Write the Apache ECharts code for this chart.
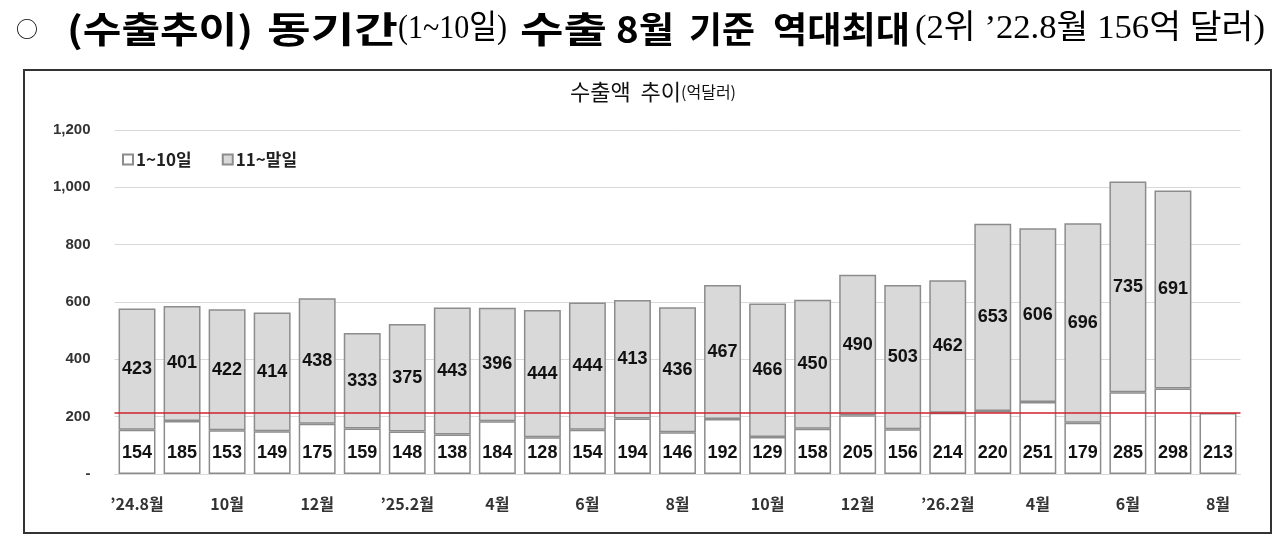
<!DOCTYPE html>
<html>
<head>
<meta charset="utf-8">
<script src="https://cdn.jsdelivr.net/npm/echarts@6/dist/echarts.min.js"></script>
<style>
html,body{margin:0;padding:0;background:#fff;}
#c{width:1288px;height:547px;}
</style>
</head>
<body>
<div id="c"></div>
<script>
var categories = ['’24.8월','9월','10월','11월','12월','’25.1월','’25.2월','3월','4월','5월','6월','7월','8월','9월','10월','11월','12월','’26.1월','’26.2월','3월','4월','5월','6월','7월','8월'];
var first10 = [154,185,153,149,175,159,148,138,184,128,154,194,146,192,129,158,205,156,214,220,251,179,285,298,213];
var restOfMonth = [423,401,422,414,438,333,375,443,396,444,444,413,436,467,466,450,490,503,462,653,606,696,735,691,null];
var seriesNames = ['1~10일','11~말일'];
var headingParts = ['○','(수출추이)','동기간','(1~10일)','수출','8월','기준','역대최대','(2위 ’22.8월 156억 달러)'];
var chartTitle = '수출액  추이';
var chartUnit = '(억달러)';

var FONT = '"Noto Sans CJK KR", "Noto Sans", sans-serif';
var SERIF = '"Liberation Serif", "Noto Sans CJK KR", serif';
var NUMFONT = '"Liberation Sans", Arial, sans-serif';
var chart = echarts.init(document.getElementById('c'));
var refValue = first10[first10.length - 1];

// heading layout: [x, target width, font]
var HB = 'bold 36px ' + FONT, HS = 'normal 33px ' + SERIF;
var headLayout = [
  [16, 0, 'normal 22px ' + FONT],
  [67, 186, HB],
  [267, 131, HB],
  [398, 109, HS],
  [520, 87, HB],
  [616, 58, HB],
  [689, 66, HB],
  [773, 137, HB],
  [915, 350, HS]
];
var ctx = document.createElement('canvas').getContext('2d');
var graphics = headingParts.map(function (t, i) {
  var L = headLayout[i];
  ctx.font = L[2];
  var w = ctx.measureText(t).width;
  var sx = L[1] ? L[1] / w : 1;
  return {
    type: 'text', x: L[0], y: 29, scaleX: sx, silent: true,
    style: {text: t, font: L[2], fill: '#000', verticalAlign: 'middle', textVerticalAlign: 'middle'}
  };
});
graphics.push({type: 'rect', shape: {x: 24, y: 70, width: 1247, height: 463}, style: {fill: 'none', stroke: '#333', lineWidth: 2}, silent: true});

chart.setOption({
  animation: false,
  backgroundColor: '#fff',
  title: [
    {
      left: 648, top: 76, textAlign: 'center',
      text: '{m|' + chartTitle + '}{p|' + chartUnit + '}',
      textStyle: {
        fontWeight: 'normal',
        rich: {
          m: {fontFamily: FONT, fontSize: 22, fontWeight: 'normal', color: '#111'},
          p: {fontFamily: FONT, fontSize: 16, fontWeight: 'normal', color: '#111'}
        }
      }
    }
  ],
  graphic: graphics,
  legend: {
    left: 117, top: 146,
    icon: 'rect', itemWidth: 10, itemHeight: 10, itemGap: 30,
    textStyle: {fontFamily: FONT, fontSize: 17, fontWeight: 'bold', color: '#222', padding: [0,0,0,-2]},
    data: seriesNames
  },
  grid: {left: 114.5, right: 47.5, top: 130, bottom: 73, containLabel: false},
  xAxis: {
    type: 'category',
    data: categories,
    axisTick: {show: false},
    axisLine: {show: true, lineStyle: {color: '#d9d9d9'}},
    axisLabel: {interval: 1, margin: 22, fontFamily: FONT, fontSize: 16, fontWeight: 'bold', color: '#333'}
  },
  yAxis: {
    type: 'value', min: 0, max: 1200, interval: 200,
    axisLine: {show: false}, axisTick: {show: false},
    splitLine: {lineStyle: {color: '#d9d9d9', width: 1}},
    axisLabel: {
      margin: 24, fontFamily: NUMFONT, fontSize: 15, fontWeight: 'bold', color: '#333',
      formatter: function (v) { return v === 0 ? '-' : v.toLocaleString('en-US'); }
    }
  },
  series: [
    {
      name: seriesNames[0], type: 'bar', stack: 'total', barCategoryGap: '18%',
      data: first10,
      itemStyle: {color: '#ffffff', borderColor: '#8c8c8c', borderWidth: 1.5},
      label: {show: true, position: 'insideBottom', distance: 12, fontFamily: NUMFONT, fontSize: 18, fontWeight: 'bold', color: '#111'},
      markLine: {
        silent: true, symbol: 'none',
        label: {show: false},
        lineStyle: {color: '#d0222c', width: 1.5, type: 'solid'},
        data: [{yAxis: refValue}]
      },
      z: 2
    },
    {
      name: seriesNames[1], type: 'bar', stack: 'total',
      data: restOfMonth,
      itemStyle: {color: '#d9d9d9', borderColor: '#8c8c8c', borderWidth: 1.5},
      label: {show: true, position: 'inside', fontFamily: NUMFONT, fontSize: 18, fontWeight: 'bold', color: '#111'},
      z: 1
    }
  ]
});
</script>
</body>
</html>
